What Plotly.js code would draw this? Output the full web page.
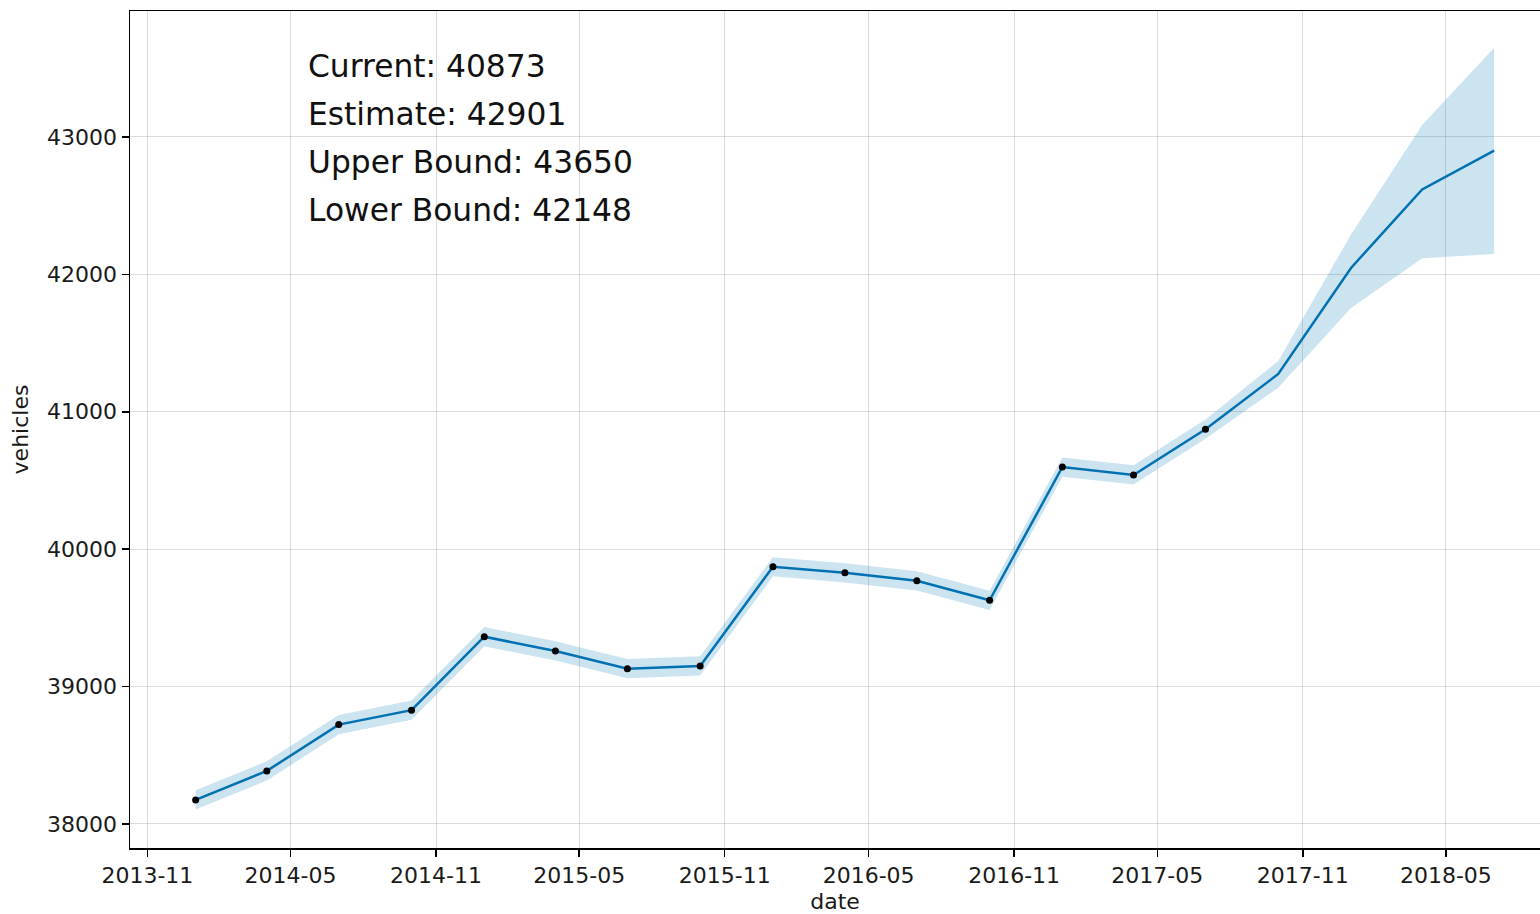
<!DOCTYPE html>
<html>
<head>
<meta charset="utf-8">
<script src="https://cdn.plot.ly/plotly-3.0.1.min.js"></script>
<style>
  body { margin: 0; background: #fff; }
  #plot { width: 1540px; height: 914px; }
</style>
</head>
<body>
<div id="plot"></div>
<script>
// observed quarterly counts
const obsDates = ['2014-01-01', '2014-04-01', '2014-07-01', '2014-10-01', '2015-01-01', '2015-04-01',
    '2015-07-01', '2015-10-01', '2016-01-01', '2016-04-01', '2016-07-01', '2016-10-01',
    '2017-01-01', '2017-04-01', '2017-07-01'];
const observed = [38175, 38386, 38723, 38828, 39363, 39259, 39130, 39150, 39872, 39828, 39770, 39628,
    40598, 40540, 40873];

// model fit + forecast
const fcDates = obsDates.concat(['2017-10-01', '2018-01-01', '2018-04-01', '2018-07-01']);
const yhat = observed.concat([41275, 42047, 42618, 42901]);
const yhatUpper = [38245, 38456, 38793, 38898, 39433, 39329, 39200, 39220, 39942, 39898, 39840, 39698,
    40668, 40610, 40943, 41370, 42290, 43087, 43650];
const yhatLower = [38105, 38316, 38653, 38758, 39293, 39189, 39060, 39080, 39802, 39758, 39700, 39558,
    40528, 40470, 40803, 41175, 41755, 42118, 42148];

const notes = ['Current: 40873', 'Estimate: 42901', 'Upper Bound: 43650', 'Lower Bound: 42148'];

const blue = '#0072B2';
const font = 'DejaVu Sans, sans-serif';

const traces = [
    {
        x: fcDates, y: yhatUpper, type: 'scatter', mode: 'lines',
        line: { width: 0, color: blue }, hoverinfo: 'skip', showlegend: false,
    },
    {
        x: fcDates, y: yhatLower, type: 'scatter', mode: 'lines', fill: 'tonexty',
        fillcolor: 'rgba(0,114,178,0.2)', line: { width: 0, color: blue }, showlegend: false,
    },
    {
        x: fcDates, y: yhat, type: 'scatter', mode: 'lines',
        line: { color: blue, width: 2.5 }, showlegend: false,
    },
    {
        x: obsDates, y: observed, type: 'scatter', mode: 'markers',
        marker: { color: 'black', size: 7 }, showlegend: false,
    },
];

const annotations = notes.map((t, i) => ({
    text: t, xref: 'paper', yref: 'paper', x: 0.1245, y: 0.9345 - i * 0.0574,
    xanchor: 'left', yanchor: 'middle', showarrow: false,
    font: { family: font, size: 31.3, color: '#111' },
}));

const layout = {
    width: 1540, height: 914,
    margin: { l: 130, r: 0, t: 11, b: 66 },
    paper_bgcolor: 'white', plot_bgcolor: 'white',
    font: { family: font, size: 22, color: '#1a1a1a' },
    xaxis: {
        type: 'date', range: ['2013-10-10', '2018-08-28'],
        tick0: '2013-11-01', dtick: 'M6', tickformat: '%Y-%m',
        showgrid: true, gridcolor: 'rgba(128,128,128,0.28)', gridwidth: 1,
        showline: true, linecolor: 'black', linewidth: 1.5, mirror: true,
        ticks: 'outside', ticklen: 7, tickcolor: 'black', tickwidth: 1.5,
        zeroline: false,
        title: { text: 'date', standoff: 6, font: { size: 22 } },
    },
    yaxis: {
        range: [37825, 43917], dtick: 1000, tickformat: 'd',
        showgrid: true, gridcolor: 'rgba(128,128,128,0.28)', gridwidth: 1,
        showline: true, linecolor: 'black', linewidth: 1.5,
        ticks: 'outside', ticklen: 7, tickcolor: 'black', tickwidth: 1.5,
        zeroline: false,
        title: { text: 'vehicles', standoff: 12, font: { size: 22 } },
    },
    annotations,
};

Plotly.newPlot('plot', traces, layout, { staticPlot: true });
</script>
</body>
</html>
